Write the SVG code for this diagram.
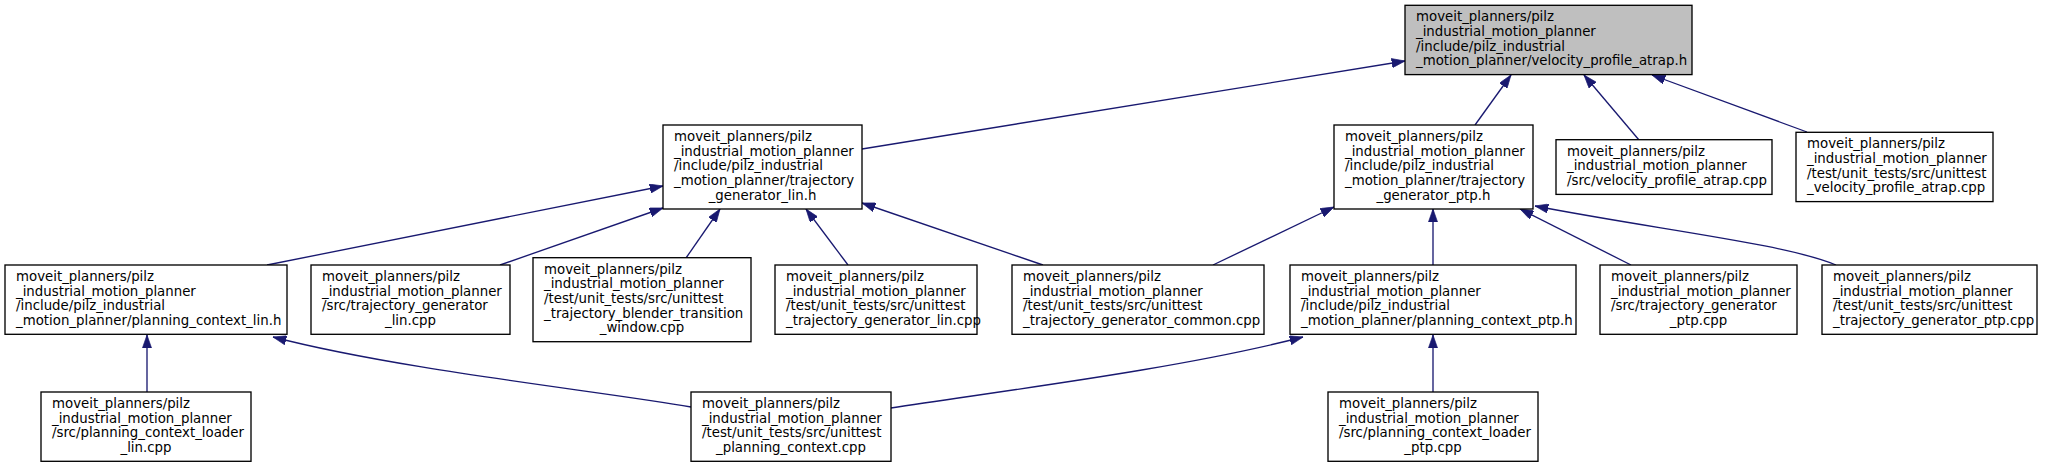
<svg xmlns="http://www.w3.org/2000/svg" width="2046" height="467" viewBox="0 0 2046 467">
<style>
.bg{fill:#ffffff}
.n rect{fill:#ffffff;stroke:#000000;stroke-width:1.33}
.n.root rect{fill:#bfbfbf}
.n text{font-family:"DejaVu Sans",sans-serif;font-size:13.33px;fill:#000000}
.n text .c{text-anchor:middle}
.e path{fill:none;stroke:#191970;stroke-width:1.33;marker-end:url(#ah)}
</style>
<defs>
<marker id="ah" viewBox="0 0 10 7" refX="10" refY="3.5" markerWidth="13.3" markerHeight="9.3" markerUnits="userSpaceOnUse" orient="auto">
<path d="M0,0 L10,3.5 L0,7 z" fill="#191970" stroke="#191970" stroke-width="0.5"/>
</marker>
</defs>
<rect class="bg" x="0" y="0" width="2046" height="467"/>

<g id="edges" class="e">
<path d="M862,149 L1405,61"/>
<path d="M1475,125 L1511,75"/>
<path d="M1639,140 L1584,75"/>
<path d="M1807,132 L1652,75"/>
<path d="M267,265 L663,186"/>
<path d="M500,265 L663,208"/>
<path d="M686,258 L720,209"/>
<path d="M848,265 L806,209"/>
<path d="M1043,265 L862,203"/>
<path d="M1213,265 L1334,207"/>
<path d="M1433,265 L1433,209"/>
<path d="M1631,265 L1520,209"/>
<path d="M1836,265 C1786,244 1660,230 1535,206"/>
<path d="M147,392 L147,335"/>
<path d="M691,407 C600,391 400,370 273,337"/>
<path d="M891,408 C1000,391 1180,369 1303,337"/>
<path d="M1433,392 L1433,335"/>
</g>

<g id="node1" class="n root">
<rect x="1405" y="5.3" width="287" height="69.3"/>
<text><tspan x="1416" y="21.3">moveit_planners/pilz</tspan><tspan x="1416" y="36">_industrial_motion_planner</tspan><tspan x="1416" y="50.6">/include/pilz_industrial</tspan><tspan x="1416" y="65.3">_motion_planner/velocity_profile_atrap.h</tspan></text>
</g>

<g id="node2" class="n">
<rect x="663" y="125" width="199" height="84"/>
<text><tspan x="674" y="141">moveit_planners/pilz</tspan><tspan x="674" y="155.7">_industrial_motion_planner</tspan><tspan x="674" y="170.3">/include/pilz_industrial</tspan><tspan x="674" y="185">_motion_planner/trajectory</tspan><tspan class="c" x="762.5" y="199.7">_generator_lin.h</tspan></text>
</g>

<g id="node3" class="n">
<rect x="1334" y="125" width="199" height="84"/>
<text><tspan x="1345" y="141">moveit_planners/pilz</tspan><tspan x="1345" y="155.7">_industrial_motion_planner</tspan><tspan x="1345" y="170.3">/include/pilz_industrial</tspan><tspan x="1345" y="185">_motion_planner/trajectory</tspan><tspan class="c" x="1433.5" y="199.7">_generator_ptp.h</tspan></text>
</g>

<g id="node4" class="n">
<rect x="1556" y="139.7" width="216" height="54.7"/>
<text><tspan x="1567" y="155.7">moveit_planners/pilz</tspan><tspan x="1567" y="170.4">_industrial_motion_planner</tspan><tspan x="1567" y="185">/src/velocity_profile_atrap.cpp</tspan></text>
</g>

<g id="node5" class="n">
<rect x="1796" y="132.3" width="197" height="69.3"/>
<text><tspan x="1807" y="148.3">moveit_planners/pilz</tspan><tspan x="1807" y="163">_industrial_motion_planner</tspan><tspan x="1807" y="177.6">/test/unit_tests/src/unittest</tspan><tspan x="1807" y="192.3">_velocity_profile_atrap.cpp</tspan></text>
</g>

<g id="node6" class="n">
<rect x="5" y="265" width="282" height="69.3"/>
<text><tspan x="16" y="281">moveit_planners/pilz</tspan><tspan x="16" y="295.7">_industrial_motion_planner</tspan><tspan x="16" y="310.3">/include/pilz_industrial</tspan><tspan x="16" y="325">_motion_planner/planning_context_lin.h</tspan></text>
</g>

<g id="node7" class="n">
<rect x="311" y="265" width="199" height="69.3"/>
<text><tspan x="322" y="281">moveit_planners/pilz</tspan><tspan x="322" y="295.7">_industrial_motion_planner</tspan><tspan x="322" y="310.3">/src/trajectory_generator</tspan><tspan class="c" x="410.5" y="325">_lin.cpp</tspan></text>
</g>

<g id="node8" class="n">
<rect x="533" y="257.7" width="218" height="84"/>
<text><tspan x="544" y="273.7">moveit_planners/pilz</tspan><tspan x="544" y="288.4">_industrial_motion_planner</tspan><tspan x="544" y="303">/test/unit_tests/src/unittest</tspan><tspan x="544" y="317.7">_trajectory_blender_transition</tspan><tspan class="c" x="642" y="332.4">_window.cpp</tspan></text>
</g>

<g id="node9" class="n">
<rect x="775" y="265" width="202" height="69.3"/>
<text><tspan x="786" y="281">moveit_planners/pilz</tspan><tspan x="786" y="295.7">_industrial_motion_planner</tspan><tspan x="786" y="310.3">/test/unit_tests/src/unittest</tspan><tspan x="786" y="325">_trajectory_generator_lin.cpp</tspan></text>
</g>

<g id="node10" class="n">
<rect x="1012" y="265" width="252" height="69.3"/>
<text><tspan x="1023" y="281">moveit_planners/pilz</tspan><tspan x="1023" y="295.7">_industrial_motion_planner</tspan><tspan x="1023" y="310.3">/test/unit_tests/src/unittest</tspan><tspan x="1023" y="325">_trajectory_generator_common.cpp</tspan></text>
</g>

<g id="node11" class="n">
<rect x="1290" y="265" width="286" height="69.3"/>
<text><tspan x="1301" y="281">moveit_planners/pilz</tspan><tspan x="1301" y="295.7">_industrial_motion_planner</tspan><tspan x="1301" y="310.3">/include/pilz_industrial</tspan><tspan x="1301" y="325">_motion_planner/planning_context_ptp.h</tspan></text>
</g>

<g id="node12" class="n">
<rect x="1600" y="265" width="197" height="69.3"/>
<text><tspan x="1611" y="281">moveit_planners/pilz</tspan><tspan x="1611" y="295.7">_industrial_motion_planner</tspan><tspan x="1611" y="310.3">/src/trajectory_generator</tspan><tspan class="c" x="1698.5" y="325">_ptp.cpp</tspan></text>
</g>

<g id="node13" class="n">
<rect x="1822" y="265" width="215" height="69.3"/>
<text><tspan x="1833" y="281">moveit_planners/pilz</tspan><tspan x="1833" y="295.7">_industrial_motion_planner</tspan><tspan x="1833" y="310.3">/test/unit_tests/src/unittest</tspan><tspan x="1833" y="325">_trajectory_generator_ptp.cpp</tspan></text>
</g>

<g id="node14" class="n">
<rect x="41" y="392" width="210" height="69.3"/>
<text><tspan x="52" y="408">moveit_planners/pilz</tspan><tspan x="52" y="422.7">_industrial_motion_planner</tspan><tspan x="52" y="437.3">/src/planning_context_loader</tspan><tspan class="c" x="146" y="452">_lin.cpp</tspan></text>
</g>

<g id="node15" class="n">
<rect x="691" y="392" width="200" height="69.3"/>
<text><tspan x="702" y="408">moveit_planners/pilz</tspan><tspan x="702" y="422.7">_industrial_motion_planner</tspan><tspan x="702" y="437.3">/test/unit_tests/src/unittest</tspan><tspan class="c" x="791" y="452">_planning_context.cpp</tspan></text>
</g>

<g id="node16" class="n">
<rect x="1328" y="392" width="210" height="69.3"/>
<text><tspan x="1339" y="408">moveit_planners/pilz</tspan><tspan x="1339" y="422.7">_industrial_motion_planner</tspan><tspan x="1339" y="437.3">/src/planning_context_loader</tspan><tspan class="c" x="1433" y="452">_ptp.cpp</tspan></text>
</g>
</svg>
